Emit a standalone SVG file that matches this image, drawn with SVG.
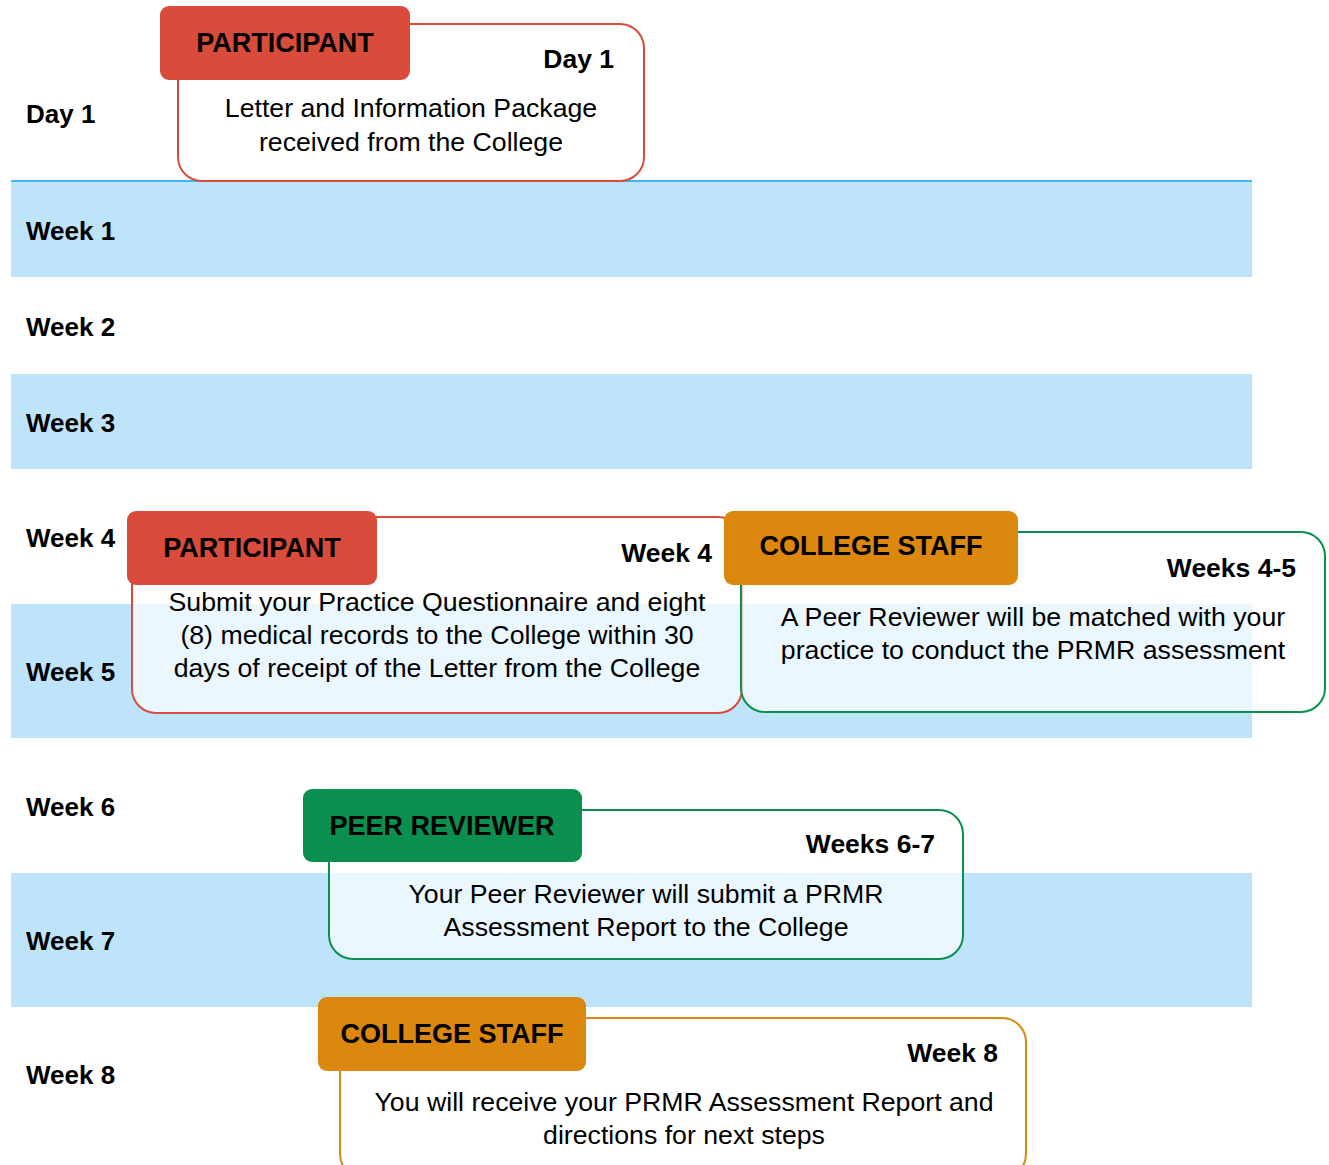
<svg xmlns="http://www.w3.org/2000/svg" width="1329" height="1165" viewBox="0 0 1329 1165">
<style>
.band{fill:#bde4fb}
.lbl{font-family:"Liberation Sans",Arial,sans-serif;font-weight:bold;font-size:26px;fill:#000}
.tabt{font-family:"Liberation Sans",Arial,sans-serif;font-weight:bold;font-size:27px;fill:#000;text-anchor:middle}
.when{font-family:"Liberation Sans",Arial,sans-serif;font-weight:bold;font-size:26.5px;fill:#000;text-anchor:end}
.body{font-family:"Liberation Sans",Arial,sans-serif;font-size:26.7px;fill:#000;text-anchor:middle}
.box{fill:#fff;fill-opacity:0.7;stroke-width:2}
.red{stroke:#d94b3a}.grn{stroke:#0a8f4f}.org{stroke:#dc870e}
.tred{fill:#d94b3a}.tgrn{fill:#0a8f4f}.torg{fill:#dc870e}
</style>
<rect width="1329" height="1165" fill="#fff"/>
<g id="bands">
<rect class="band" x="11" y="181" width="1241" height="96"/>
<rect x="11" y="180" width="1241" height="2" fill="#41b4f5"/>
<rect class="band" x="11" y="374" width="1241" height="95"/>
<rect class="band" x="11" y="604" width="1241" height="134"/>
<rect class="band" x="11" y="873" width="1241" height="134"/>
</g>
<g id="labels">
<text class="lbl" x="26" y="123">Day 1</text>
<text class="lbl" x="26" y="240">Week 1</text>
<text class="lbl" x="26" y="336">Week 2</text>
<text class="lbl" x="26" y="432">Week 3</text>
<text class="lbl" x="26" y="547">Week 4</text>
<text class="lbl" x="26" y="681">Week 5</text>
<text class="lbl" x="26" y="816">Week 6</text>
<text class="lbl" x="26" y="950">Week 7</text>
<text class="lbl" x="26" y="1084">Week 8</text>
</g>
<g id="connectors"></g>
<g id="node-day1">
<rect class="box red" x="178" y="24" width="466" height="157" rx="24"/>
<rect class="tred" x="160" y="6" width="250" height="74" rx="9"/>
<text class="tabt" x="285" y="52">PARTICIPANT</text>
<text class="when" x="614" y="68">Day 1</text>
<text class="body" x="411" y="117">Letter and Information Package</text>
<text class="body" x="411" y="151">received from the College</text>
</g>
<g id="node-week4">
<rect class="box red" x="132" y="517" width="610" height="196" rx="24"/>
<rect class="tred" x="127" y="511" width="250" height="74" rx="9"/>
<text class="tabt" x="252" y="557">PARTICIPANT</text>
<text class="when" x="712" y="562">Week 4</text>
<text class="body" x="437" y="611">Submit your Practice Questionnaire and eight</text>
<text class="body" x="437" y="644">(8) medical records to the College within 30</text>
<text class="body" x="437" y="677">days of receipt of the Letter from the College</text>
</g>
<g id="node-weeks45">
<rect class="box grn" x="741" y="532" width="584" height="180" rx="24"/>
<rect class="torg" x="724" y="511" width="294" height="74" rx="9"/>
<text class="tabt" x="871" y="555">COLLEGE STAFF</text>
<text class="when" x="1296" y="577">Weeks 4-5</text>
<text class="body" x="1033" y="626">A Peer Reviewer will be matched with your</text>
<text class="body" x="1033" y="659">practice to conduct the PRMR assessment</text>
</g>
<g id="node-weeks67">
<rect class="box grn" x="329" y="810" width="634" height="149" rx="24"/>
<rect class="tgrn" x="303" y="789" width="279" height="73" rx="9"/>
<text class="tabt" x="442" y="835">PEER REVIEWER</text>
<text class="when" x="935" y="853">Weeks 6-7</text>
<text class="body" x="646" y="903">Your Peer Reviewer will submit a PRMR</text>
<text class="body" x="646" y="936">Assessment Report to the College</text>
</g>
<g id="node-week8">
<rect class="box org" x="340" y="1018" width="686" height="160" rx="24"/>
<rect class="torg" x="318" y="997" width="268" height="74" rx="9"/>
<text class="tabt" x="452" y="1043">COLLEGE STAFF</text>
<text class="when" x="998" y="1062">Week 8</text>
<text class="body" x="684" y="1111">You will receive your PRMR Assessment Report and</text>
<text class="body" x="684" y="1144">directions for next steps</text>
</g>
</svg>
